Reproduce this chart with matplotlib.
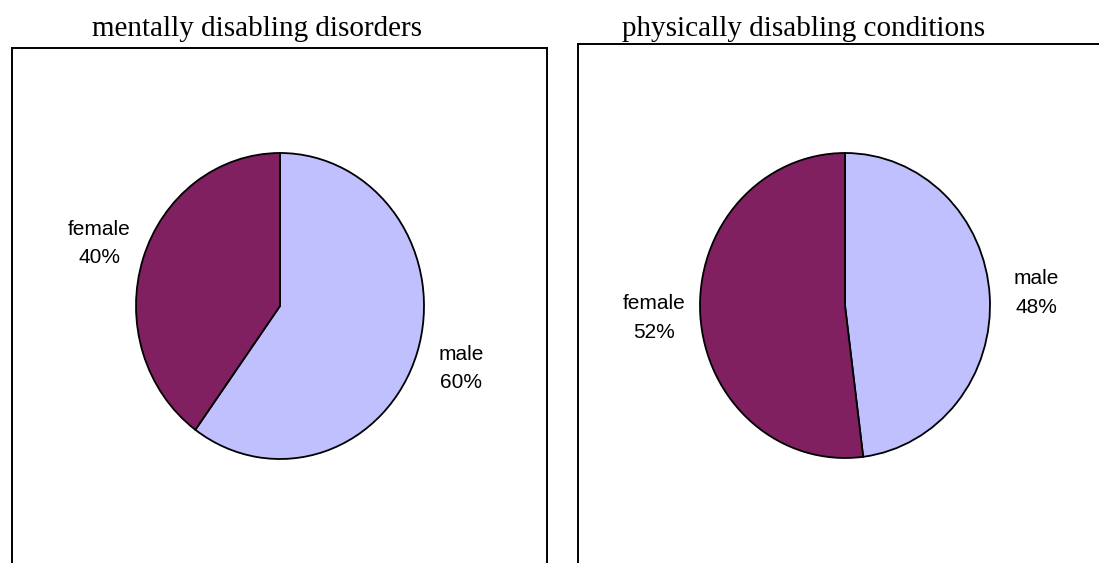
import matplotlib
matplotlib.use("Agg")
import matplotlib.pyplot as plt

# data
categories = ["male", "female"]
mental_pct = [60, 40]
physical_pct = [48, 52]
titles = ["mentally disabling disorders", "physically disabling conditions"]
colors = ["#C0C0FF", "#802060"]

W, H = 1099, 563
fig = plt.figure(figsize=(W / 100, H / 100), dpi=100)


def px_box(x0, y0, x1, y1):
    # pixel box (top-left origin) -> figure fraction rect
    return [x0 / W, 1 - y1 / H, (x1 - x0) / W, (y1 - y0) / H]


# frames round each panel (run off the bottom / right of the picture)
frames = [(12, 48, 547, 620), (578, 44, 1115, 620)]
for fx in frames:
    fa = fig.add_axes(px_box(*fx))
    fa.set_xticks([])
    fa.set_yticks([])
    fa.patch.set_alpha(0)
    for s in fa.spines.values():
        s.set_linewidth(1.4)
        s.set_color("black")

# pie boxes (slightly taller than wide, like the original)
pie_boxes = [(136, 153, 424, 459), (700, 153, 990, 458)]
title_x = [257, 804]

for box, vals, title, tx in zip(pie_boxes, [mental_pct, physical_pct], titles, title_x):
    ax = fig.add_axes(px_box(*box))
    labels = [f"{c}\n{v}%" for c, v in zip(categories, vals)]
    wedges, texts = ax.pie(vals, labels=labels, colors=colors, startangle=90,
                           counterclock=False, labeldistance=1.32,
                           wedgeprops=dict(edgecolor="black", linewidth=1.3),
                           textprops=dict(family="Liberation Sans", fontsize=15,
                                          linespacing=1.65))
    for t in texts:
        t.set_ha("center")
        t.set_va("center")
    ax.set_aspect("auto")
    ax.set_xlim(-1, 1)
    ax.set_ylim(-1, 1)
    ax.axis("off")
    fig.text(tx / W, 1 - 36 / H, title, ha="center", va="baseline",
             family="Liberation Serif", fontsize=21)

fig.savefig("out.png", dpi=100)
